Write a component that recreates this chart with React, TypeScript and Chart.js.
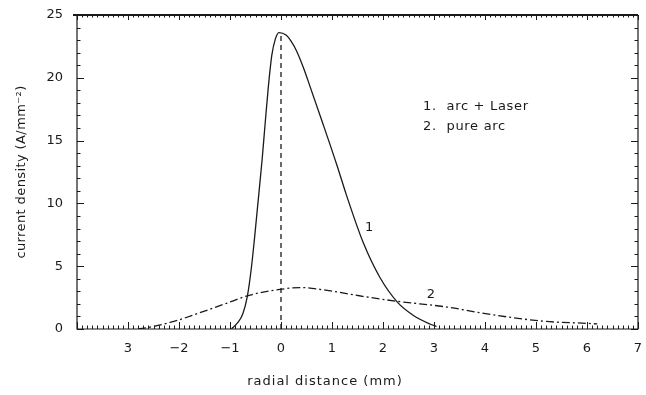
import React, { useEffect, useRef } from 'react';
import { Chart, registerables } from 'chart.js';

Chart.register(...registerables);

// ---- data ----
const curve1X = [-0.97, -0.85, -0.75, -0.66, -0.58, -0.52, -0.46, -0.37, -0.31, -0.25, -0.18, -0.11, -0.04, 0.1, 0.2, 0.31, 0.44, 0.57, 0.8, 1.1, 1.28, 1.61, 1.94, 2.29, 2.59, 2.92, 3.05];
const curve1Y = [0, 0.5, 1.2, 2.6, 4.9, 7.2, 9.7, 13.5, 16.4, 19.2, 21.8, 23.1, 23.6, 23.4, 22.9, 22.1, 20.8, 19.3, 16.6, 13.0, 10.7, 6.9, 4.1, 2.1, 1.1, 0.4, 0.2];

const curve2X = [-2.8, -2.57, -2.1, -1.59, -1.1, -0.61, -0.02, 0.37, 1.02, 1.6, 2.29, 3.25, 3.9, 4.55, 5.2, 6.0, 6.2];
const curve2Y = [0, 0.15, 0.6, 1.3, 2.0, 2.7, 3.15, 3.3, 3.0, 2.6, 2.2, 1.75, 1.3, 0.9, 0.6, 0.45, 0.4];

const peakLineX = [0, 0];
const peakLineY = [0, 23.5];

const xTickValues = [-3, -2, -1, 0, 1, 2, 3, 4, 5, 6, 7];
const xTickLabels = ['3', '\u22122', '\u22121', '0', '1', '2', '3', '4', '5', '6', '7'];
const yTickValues = [0, 5, 10, 15, 20, 25];
const yTickLabels = ['0', '5', '10', '15', '20', '25'];

const curveLabelText = ['1', '2'];
const curveLabelX = [1.73, 2.94];
const curveLabelY = [8.1, 2.7];

const legendLines = ['1.  arc + Laser', '2.  pure arc'];

const xTitle = 'radial distance (mm)';
const yTitle = 'current density (A/mm\u207B\u00B2)';

const toPoints = (xs: number[], ys: number[]) => xs.map((x, i) => ({ x, y: ys[i] }));

const FONT = '"DejaVu Sans", sans-serif';
const INK = '#1a1a1a';

const framePlugin = {
  id: 'frameTicks',
  afterDatasetsDraw(chart: any) {
    const { ctx, chartArea, scales } = chart;
    const { left, right, top, bottom } = chartArea;
    const xs = scales.x;
    const ys = scales.y;
    ctx.save();
    ctx.strokeStyle = INK;
    ctx.lineWidth = 1.2;
    ctx.beginPath();
    ctx.moveTo(left, top);
    ctx.lineTo(left, bottom);
    ctx.lineTo(right, bottom);
    ctx.lineTo(right, top);
    ctx.stroke();
    ctx.lineWidth = 2.2;
    ctx.beginPath();
    ctx.moveTo(left - 4, top);
    ctx.lineTo(right, top);
    ctx.stroke();
    // ticks
    ctx.lineWidth = 1;
    ctx.beginPath();
    for (let i = -40; i <= 70; i++) {
      const px = Math.round(xs.getPixelForValue(i / 10)) + 0.5;
      const major = i % 10 === 0;
      const len = major ? 7 : 3.5;
      ctx.moveTo(px, bottom);
      ctx.lineTo(px, bottom - len);
      ctx.moveTo(px, top);
      ctx.lineTo(px, top + (major ? 5 : 2.5));
    }
    for (let j = 0; j <= 25; j++) {
      const py = Math.round(ys.getPixelForValue(j)) + 0.5;
      const major = j % 5 === 0;
      const len = major ? 7 : 3.5;
      ctx.moveTo(left, py);
      ctx.lineTo(left + len, py);
      ctx.moveTo(right, py);
      ctx.lineTo(right - len, py);
    }
    ctx.stroke();

    // curve labels
    ctx.fillStyle = INK;
    ctx.font = `13px ${FONT}`;
    ctx.textAlign = 'center';
    ctx.textBaseline = 'middle';
    curveLabelText.forEach((t, i) => {
      ctx.fillText(t, xs.getPixelForValue(curveLabelX[i]), ys.getPixelForValue(curveLabelY[i]));
    });

    // legend text
    ctx.textAlign = 'left';
    ctx.font = `13px ${FONT}`;
    (ctx as any).letterSpacing = '0.7px';
    legendLines.forEach((t, i) => {
      ctx.fillText(t, 423, 107 + i * 20);
    });

    // axis titles
    ctx.textAlign = 'center';
    (ctx as any).letterSpacing = '1px';
    ctx.fillText(xTitle, 325, 382);
    (ctx as any).letterSpacing = '0.4px';
    ctx.save();
    ctx.translate(22, (top + bottom) / 2);
    ctx.rotate(-Math.PI / 2);
    ctx.fillText(yTitle, 0, 0);
    ctx.restore();
    (ctx as any).letterSpacing = '0px';
    ctx.restore();
  },
};

export default function App() {
  const ref = useRef<HTMLCanvasElement>(null);
  useEffect(() => {
    if (!ref.current) return;
    const chart = new Chart(ref.current, {
      type: 'line',
      data: {
        datasets: [
          {
            label: 'arc + Laser',
            data: toPoints(curve1X, curve1Y),
            borderColor: INK,
            borderWidth: 1.3,
            pointRadius: 0,
            cubicInterpolationMode: 'monotone',
            fill: false,
          },
          {
            label: 'pure arc',
            data: toPoints(curve2X, curve2Y),
            borderColor: INK,
            borderWidth: 1.3,
            borderDash: [8, 3, 2, 3],
            pointRadius: 0,
            cubicInterpolationMode: 'monotone',
            fill: false,
          },
          {
            label: 'peak',
            data: toPoints(peakLineX, peakLineY),
            borderColor: INK,
            borderWidth: 1.3,
            borderDash: [5, 4],
            pointRadius: 0,
            fill: false,
          },
        ],
      },
      options: {
        animation: false,
        responsive: false,
        layout: { padding: { top: 15, right: 8, bottom: 0, left: 0 } },
        plugins: { legend: { display: false }, tooltip: { enabled: false } },
        scales: {
          x: {
            type: 'linear',
            min: -4,
            max: 7,
            afterFit: (s: any) => {
              s.height = 66;
              s.paddingLeft = 0;
              s.paddingRight = 0;
            },
            grid: { display: false, drawTicks: false },
            border: { display: false },
            ticks: {
              stepSize: 1,
              autoSkip: false,
              maxRotation: 0,
              padding: 12,
              color: INK,
              font: { family: FONT, size: 13 },
              callback: (v: any) => {
                const i = xTickValues.indexOf(Number(v));
                return i >= 0 ? xTickLabels[i] : '';
              },
            },
          },
          y: {
            type: 'linear',
            min: 0,
            max: 25,
            afterFit: (s: any) => {
              s.width = 77;
              s.paddingTop = 0;
              s.paddingBottom = 0;
            },
            grid: { display: false, drawTicks: false },
            border: { display: false },
            ticks: {
              stepSize: 5,
              padding: 14,
              color: INK,
              font: { family: FONT, size: 13 },
              callback: (v: any) => {
                const i = yTickValues.indexOf(Number(v));
                return i >= 0 ? yTickLabels[i] : '';
              },
            },
          },
        },
      },
      plugins: [framePlugin],
    });
    return () => chart.destroy();
  }, []);
  return (
    <div style={{ position: 'fixed', left: 0, top: 0, width: 646, height: 395, background: '#fff' }}>
      <canvas ref={ref} width={646} height={395} />
    </div>
  );
}
